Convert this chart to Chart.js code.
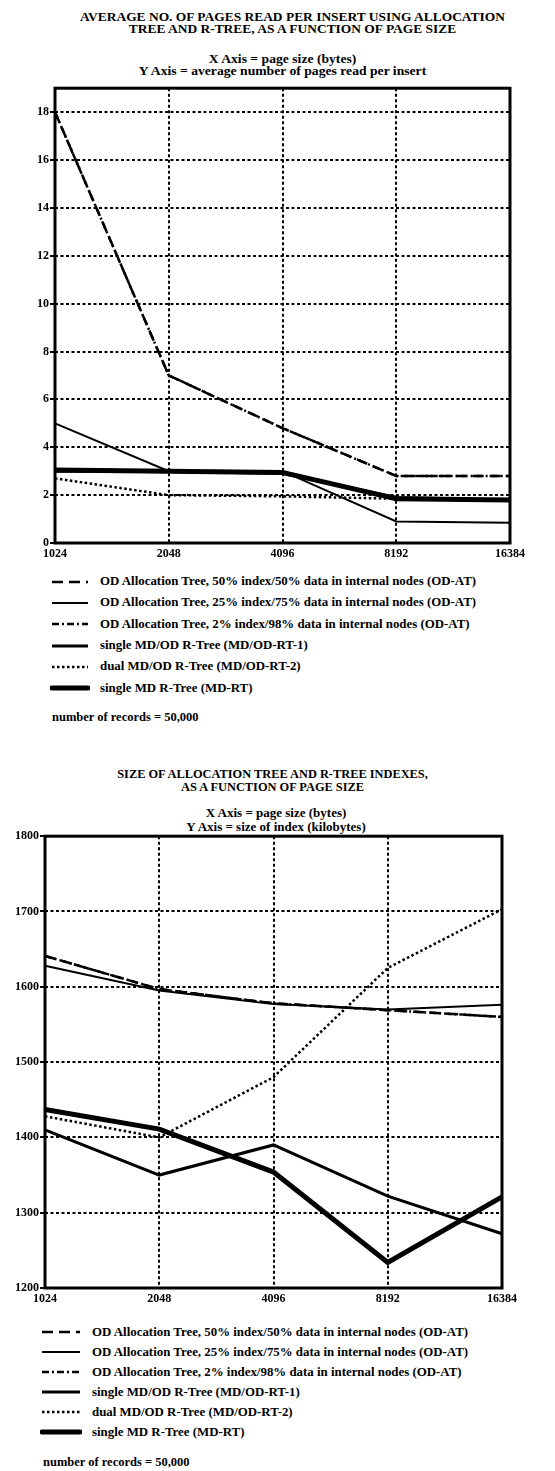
<!DOCTYPE html>
<html>
<head>
<meta charset="utf-8">
<script src="https://cdn.jsdelivr.net/npm/chart.js@4"></script>
<style>
body { margin:0; background:#fff; width:555px; height:1471px; position:relative; overflow:hidden;
  font-family:"Liberation Serif","Times New Roman",serif; font-weight:bold; color:#000; }
.t { position:absolute; text-align:center; white-space:nowrap; }
.box { position:absolute; }
.leg { position:absolute; font-size:12.5px; white-space:nowrap; }
.leg div { display:flex; align-items:center; }
.leg svg { margin-right:10px; flex:none; }
.leg span { display:inline-block; transform:scaleX(1.03); transform-origin:left center; }
.note { position:absolute; font-size:12.5px; }
</style>
</head>
<body>

<div class="t" style="left:30px;width:525px;top:11px;font-size:12px;line-height:12px;transform:scaleX(1.12)">AVERAGE NO. OF PAGES READ PER INSERT USING ALLOCATION<br>TREE AND R-TREE, AS A FUNCTION OF PAGE SIZE</div>
<div class="t" style="left:20px;width:525px;top:53px;font-size:13px;line-height:11.5px;transform:scaleX(1.05)">X Axis = page size (bytes)<br>Y Axis = average number of pages read per insert</div>
<div class="box" style="left:0;top:80px;width:555px;height:490px"><canvas id="c1"></canvas></div>
<div class="leg" id="leg1" style="left:50px;top:571px"></div>
<div class="note" style="left:52px;top:710px">number of records = 50,000</div>

<div class="t" style="left:0;width:545px;top:768px;font-size:12px;line-height:13px;transform:scaleX(1.03)">SIZE OF ALLOCATION TREE AND R-TREE INDEXES,<br>AS A FUNCTION OF PAGE SIZE</div>
<div class="t" style="left:0;width:552px;top:806px;font-size:13px;line-height:14px">X Axis = page size (bytes)<br>Y Axis = size of index (kilobytes)</div>
<div class="box" style="left:0;top:828px;width:555px;height:490px"><canvas id="c2"></canvas></div>
<div class="leg" id="leg2" style="left:40px;top:1322px"></div>
<div class="note" style="left:43px;top:1455px">number of records = 50,000</div>

<script>
// page sizes on the x axis
const pageSizes = ['1024', '2048', '4096', '8192', '16384'];

const seriesNames = [
  'OD Allocation Tree, 50% index/50% data in internal nodes (OD-AT)',
  'OD Allocation Tree, 25% index/75% data in internal nodes (OD-AT)',
  'OD Allocation Tree, 2% index/98% data in internal nodes (OD-AT)',
  'single MD/OD R-Tree (MD/OD-RT-1)',
  'dual MD/OD R-Tree (MD/OD-RT-2)',
  'single MD R-Tree (MD-RT)'
];

// chart 1: average pages read per insert
const readsAt50 = [18, 7, 4.8, 2.8, 2.8];
const readsAt25 = [5, 3, 3, 0.9, 0.85];
const readsAt2 = [18, 7, 4.8, 2.8, 2.8];
const readsRT1 = [3, 3, 2.9, 1.9, 1.8];
const readsRT2 = [2.7, 2.0, 1.95, 1.85, 1.8];
const readsMDRT = [3.05, 3.0, 2.95, 1.85, 1.8];

// chart 2: index size in kilobytes
const sizeAt50 = [1641, 1597, 1578, 1569, 1560];
const sizeAt25 = [1628, 1595, 1577, 1570, 1576];
const sizeAt2 = [1641, 1597, 1578, 1569, 1560];
const sizeRT1 = [1410, 1350, 1390, 1322, 1272];
const sizeRT2 = [1428, 1400, 1480, 1625, 1703];
const sizeMDRT = [1437, 1411, 1354, 1234, 1321];

// line look per series
const widths = [2.5, 2, 2.5, 3, 2.5, 5];
const dashes = [[11, 6], [], [7, 3, 2, 3], [], [2.5, 2.5], []];

const fnt = { family: 'Liberation Serif', weight: 'bold', size: 12 };

const frame = {
  id: 'frame',
  beforeDatasetsDraw(chart) {
    const a = chart.chartArea, ctx = chart.ctx;
    ctx.save();
    ctx.strokeStyle = '#000';
    ctx.lineWidth = 3;
    ctx.strokeRect(a.left, a.top, a.right - a.left, a.bottom - a.top);
    ctx.restore();
  }
};

function makeSets(list) {
  return list.map((d, i) => ({
    label: seriesNames[i],
    data: d,
    borderColor: '#000',
    borderWidth: widths[i],
    borderDash: dashes[i],
    pointRadius: 0,
    tension: 0,
    fill: false
  }));
}

function chart(id, sets, yOpts, yWidth, xHeight, padTop, padRight) {
  new Chart(document.getElementById(id), {
    type: 'line',
    data: { labels: pageSizes, datasets: makeSets(sets) },
    plugins: [frame],
    options: {
      responsive: true,
      maintainAspectRatio: false,
      animation: false,
      layout: { padding: { top: padTop, right: padRight, left: 0, bottom: 0 } },
      plugins: { legend: { display: false }, tooltip: { enabled: false } },
      scales: {
        x: {
          grid: { color: '#000', lineWidth: 2, drawTicks: false },
          border: { display: false, dash: [3, 2.5] },
          ticks: { color: '#000', font: fnt, padding: 4, maxRotation: 0, autoSkip: false },
          afterFit: s => { s.height = xHeight; }
        },
        y: Object.assign({
          grid: { color: '#000', lineWidth: 2, tickLength: 5, tickColor: '#000', tickWidth: 2, tickBorderDash: [] },
          border: { display: false, dash: [3, 2.5] },
          afterFit: s => { s.width = yWidth; }
        }, yOpts)
      }
    }
  });
}

chart('c1', [readsAt50, readsAt25, readsAt2, readsRT1, readsRT2, readsMDRT], {
  min: 0, max: 19,
  ticks: { stepSize: 2, color: '#000', font: fnt, padding: 1 },
  afterBuildTicks: s => { s.ticks = s.ticks.filter(t => t.value % 2 === 0); }
}, 55, 27, 4, 45);

chart('c2', [sizeAt50, sizeAt25, sizeAt2, sizeRT1, sizeRT2, sizeMDRT], {
  min: 1200, max: 1800,
  ticks: { stepSize: 100, color: '#000', font: fnt, padding: 1, callback: v => String(v) }
}, 45, 30, 5, 53);

// legends
function legend(id, len, rowH) {
  const el = document.getElementById(id);
  seriesNames.forEach((name, i) => {
    const row = document.createElement('div');
    row.style.height = rowH + 'px';
    const d = dashes[i].length ? dashes[i].join(' ') : 'none';
    row.innerHTML = '<svg width="' + len + '" height="8"><line x1="2" y1="4" x2="' + (len - 2) +
      '" y2="4" stroke="#000" stroke-width="' + widths[i] + '" stroke-dasharray="' + d +
      '" stroke-linecap="' + (i === 5 ? 'round' : 'butt') + '"/></svg><span>' + name + '</span>';
    el.appendChild(row);
  });
}
legend('leg1', 40, 21.3);
legend('leg2', 42, 20);
</script>
</body>
</html>
